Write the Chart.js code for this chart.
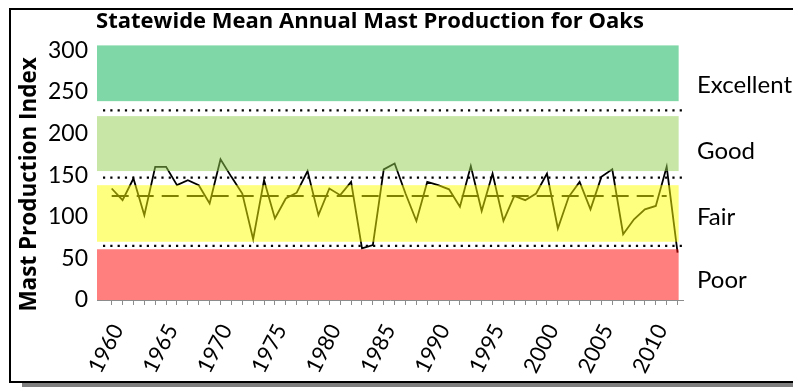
<!DOCTYPE html>
<html>
<head>
<title>Statewide Mean Annual Mast Production for Oaks</title>
<script src="https://cdn.jsdelivr.net/npm/chart.js"></script>
<style>
    body { margin: 0; background: #fff; overflow: hidden; }
    #frame { position: absolute; left: 9px; top: 8px; width: 800px; height: 371px; border: 2px solid #000; }
    #shadow { position: absolute; left: 22px; top: 383px; width: 800px; height: 6px; background: #7f7f7f; }
    #chart { position: absolute; left: 0; top: 0; }
</style>
</head>
<body>
<div id="shadow"></div>
<div id="frame"></div>
<canvas id="chart" width="793" height="387"></canvas>
<script>
// yearly index values
const years = [1960, 1961, 1962, 1963, 1964, 1965, 1966, 1967, 1968, 1969,
    1970, 1971, 1972, 1973, 1974, 1975, 1976, 1977, 1978, 1979,
    1980, 1981, 1982, 1983, 1984, 1985, 1986, 1987, 1988, 1989,
    1990, 1991, 1992, 1993, 1994, 1995, 1996, 1997, 1998, 1999,
    2000, 2001, 2002, 2003, 2004, 2005, 2006, 2007, 2008, 2009,
    2010, 2011, 2012];
const mastIndex = [134, 120, 146, 102, 160, 160, 138, 144, 138, 116,
    169, 148, 128, 73, 144, 98, 122, 129, 155, 102,
    134, 126, 142, 62, 66, 157, 164, 128, 95, 142,
    138, 133, 112, 161, 107, 152, 95, 125, 120, 128,
    152, 86, 124, 142, 109, 148, 157, 79, 97, 109,
    113, 160, 57];

// long-term mean (dashed) and class cut-offs (dotted)
const meanIndex = 125;
const meanYears = [1960, 2011];
const cutoffs = [228, 147, 65];
const cutoffYears = [1959.2, 2012.65];

// condition classes shown as bands
const bandNames = ['Excellent', 'Good', 'Fair', 'Poor'];
const bandLow = [239, 155, 70, 0];
const bandHigh = [306, 221, 138, 61];
const bandLabelAt = [258, 179, 100, 24];
const bandEndYear = 2012.1;

const yTicks = [0, 50, 100, 150, 200, 250, 300];

const bandFill = ['rgba(0,176,80,0.5)', 'rgba(146,208,80,0.5)', 'rgba(255,255,0,0.5)', 'rgba(255,0,0,0.5)'];

// bands are laid over the lines at half opacity, like the original
const bandPlugin = {
    id: 'bands',
    afterDatasetsDraw(chart) {
        const { ctx, scales: { x, y } } = chart;
        const l = x.getPixelForValue(x.min);
        const r = x.getPixelForValue(bandEndYear);
        ctx.save();
        bandNames.forEach((name, i) => {
            const top = y.getPixelForValue(bandHigh[i]);
            const bot = y.getPixelForValue(bandLow[i]);
            ctx.fillStyle = bandFill[i];
            ctx.fillRect(l, top, r - l, bot - top);
        });
        ctx.restore();
    }
};

const cutoffSets = cutoffs.map(v => ({
    data: cutoffYears.map(yr => ({ x: yr, y: v })),
    borderColor: '#000',
    borderWidth: 2.2,
    borderDash: [2.2, 5.1],
    pointRadius: 0,
    clip: false
}));

new Chart(document.getElementById('chart'), {
    type: 'line',
    data: {
        datasets: [{
            data: years.map((yr, i) => ({ x: yr, y: mastIndex[i] })),
            borderColor: '#000',
            borderWidth: 1.8,
            pointRadius: 0,
            tension: 0
        }, {
            data: meanYears.map(yr => ({ x: yr, y: meanIndex })),
            borderColor: '#000',
            borderWidth: 2,
            borderDash: [17, 8],
            pointRadius: 0
        }, ...cutoffSets]
    },
    options: {
        responsive: false,
        animation: false,
        // negative left padding so the title centres where the original has it
        layout: { padding: { left: -53, right: 0, top: 0, bottom: 0 } },
        plugins: {
            legend: { display: false },
            tooltip: { enabled: false },
            title: {
                display: true,
                text: 'Statewide Mean Annual Mast Production for Oaks',
                color: '#000',
                font: { family: 'Open Sans', size: 22, weight: 'bold' },
                padding: { top: 9, bottom: 10 }
            }
        },
        scales: {
            x: {
                type: 'linear',
                min: 1958.65,
                max: 2012.5,
                afterBuildTicks: s => { s.ticks = years.map(v => ({ value: v })); },
                afterFit: s => { s.height = 87; },
                grid: { drawOnChartArea: false, tickLength: 5, color: '#8c8c8c' },
                border: { color: '#8c8c8c' },
                ticks: {
                    autoSkip: false,
                    minRotation: 63,
                    maxRotation: 63,
                    padding: 15,
                    labelOffset: 6,
                    color: '#000',
                    font: { family: 'Lato', size: 22 },
                    callback: v => (v % 5 === 0 ? String(v) : '')
                }
            },
            y: {
                min: 0,
                max: 306,
                afterBuildTicks: s => { s.ticks = yTicks.map(v => ({ value: v })); },
                afterFit: s => { s.width = 150; },
                grid: { display: false, drawTicks: false },
                border: { display: false },
                ticks: { padding: 9, color: '#000', font: { family: 'Lato', size: 23 } },
                title: {
                    display: true,
                    text: 'Mast Production Index    ',
                    color: '#000',
                    font: { family: 'Open Sans', size: 22.5, weight: 'bold' },
                    padding: { top: 69, bottom: 0 }
                }
            },
            y2: {
                position: 'right',
                min: 0,
                max: 306,
                afterBuildTicks: s => { s.ticks = bandLabelAt.map(v => ({ value: v })); },
                afterFit: s => { s.width = 110; },
                grid: { display: false, drawTicks: false },
                border: { display: false },
                ticks: {
                    padding: 14,
                    color: '#000',
                    font: { family: 'Lato', size: 24 },
                    callback: v => bandNames[bandLabelAt.indexOf(v)]
                }
            }
        }
    },
    plugins: [bandPlugin]
});
</script>
</body>
</html>
